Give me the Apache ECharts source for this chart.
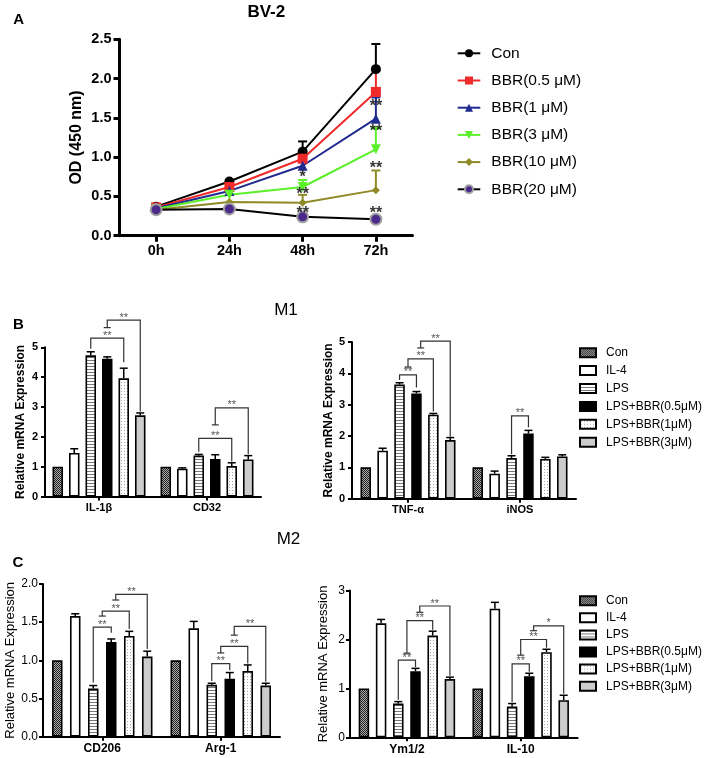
<!DOCTYPE html>
<html><head><meta charset="utf-8">
<script src="https://cdn.jsdelivr.net/npm/echarts@6/dist/echarts.min.js"></script>
<style>html,body{margin:0;padding:0;background:#fff}#c{width:708px;height:758px}</style>
</head><body><div id="c"></div>
<script>
const FONT = 'Arial, "Liberation Sans", Helvetica, sans-serif';

// ---------- Panel A data ----------
const timeLabels = ['0h', '24h', '48h', '72h'];
const lineNames = ['Con', 'BBR(0.5 μM)', 'BBR(1 μM)', 'BBR(3 μM)', 'BBR(10 μM)', 'BBR(20 μM)'];
const odCon   = [0.37, 0.69, 1.07, 2.12];
const odBbr05 = [0.36, 0.62, 0.98, 1.83];
const odBbr1  = [0.35, 0.57, 0.89, 1.49];
const odBbr3  = [0.34, 0.52, 0.62, 1.10];
const odBbr10 = [0.33, 0.43, 0.42, 0.58];
const odBbr20 = [0.33, 0.34, 0.24, 0.21];
const odConUp   = [null, null, 1.20, 2.44];
const odBbr05Up = [null, null, null, 2.10];
const odBbr1Up  = [null, null, null, 1.76];
const odBbr3Up  = [null, null, 0.71, 1.37];
const odBbr10Up = [null, null, 0.52, 0.83];
const odBbr20Up = [null, null, null, null];
const starsA = [[2, 0.79, '*'], [2, 0.57, '**'], [2, 0.33, '**'], [3, 1.69, '**'], [3, 1.37, '**'], [3, 0.90, '**'], [3, 0.33, '**']];

// ---------- Panels B / C data ----------
const groupNames = ['Con', 'IL-4', 'LPS', 'LPS+BBR(0.5μM)', 'LPS+BBR(1μM)', 'LPS+BBR(3μM)'];
const m1LeftCats  = ['IL-1β', 'CD32'];
const il1bMean = [1.00, 1.46, 4.73, 4.62, 3.96, 2.72];
const il1bUp   = [1.00, 1.60, 4.85, 4.68, 4.30, 2.80];
const cd32Mean = [1.00, 0.93, 1.37, 1.26, 1.02, 1.24];
const cd32Up   = [1.00, 0.96, 1.41, 1.40, 1.13, 1.37];
const m1RightCats = ['TNF-α', 'iNOS'];
const tnfMean  = [1.00, 1.53, 3.64, 3.36, 2.68, 1.87];
const tnfUp    = [1.00, 1.61, 3.70, 3.42, 2.72, 1.95];
const inosMean = [1.00, 0.80, 1.30, 2.08, 1.27, 1.35];
const inosUp   = [1.00, 0.88, 1.37, 2.18, 1.32, 1.40];
const m2LeftCats  = ['CD206', 'Arg-1'];
const cd206Mean = [1.00, 1.58, 0.63, 1.24, 1.32, 1.05];
const cd206Up   = [1.00, 1.61, 0.67, 1.28, 1.38, 1.12];
const arg1Mean  = [1.00, 1.42, 0.68, 0.76, 0.86, 0.67];
const arg1Up    = [1.00, 1.51, 0.70, 0.84, 0.94, 0.70];
const m2RightCats = ['Ym1/2', 'IL-10'];
const ymMean   = [1.00, 2.33, 0.69, 1.35, 2.08, 1.19];
const ymUp     = [1.00, 2.41, 0.73, 1.41, 2.17, 1.23];
const il10Mean = [1.00, 2.63, 0.63, 1.25, 1.74, 0.76];
const il10Up   = [1.00, 2.76, 0.69, 1.31, 1.80, 0.86];

// brackets: [category, fromBar, toBar, topY, leftEndY, rightEndY, label, leftCapped]
const m1LeftBrackets = [
  [0, 2, 4, 5.31, 4.95, 4.50, '**', false],
  [0, 3, 5, 5.91, 5.66, 2.85, '**', true],
  [1, 2, 4, 1.95, 1.50, 1.17, '**', false],
  [1, 3, 5, 2.97, 2.40, 1.42, '**', true]
];
const m1RightBrackets = [
  [0, 2, 3, 3.95, 3.79, 3.55, '**', false],
  [0, 2.5, 4, 4.46, 4.20, 2.78, '**', true],
  [0, 3.25, 5, 5.03, 4.81, 1.98, '**', true],
  [1, 2, 3, 2.64, 1.42, 2.28, '**', false]
];
const m2LeftBrackets = [
  [0, 2, 3, 1.436, 0.71, 1.36, '**', false],
  [0, 2.5, 4, 1.645, 1.58, 1.41, '**', true],
  [0, 3.25, 5, 1.863, 1.79, 1.15, '**', true],
  [1, 2, 3, 0.958, 0.73, 0.87, '**', false],
  [1, 2.5, 4, 1.184, 1.097, 0.96, '**', true],
  [1, 3.25, 5, 1.445, 1.33, 0.72, '**', true]
];
const m2RightBrackets = [
  [0, 2, 3, 1.58, 0.77, 1.44, '**', false],
  [0, 2.5, 4, 2.385, 1.72, 2.20, '**', true],
  [0, 3.25, 5, 2.685, 2.556, 1.26, '**', true],
  [1, 2, 3, 1.50, 0.72, 1.34, '**', false],
  [1, 2.5, 4, 2.00, 1.68, 1.83, '**', true],
  [1, 3.25, 5, 2.28, 2.18, 0.89, '*', true]
];

// ---------- patterns ----------
function pat(w, h, draw) {
  const cv = document.createElement('canvas'); cv.width = w; cv.height = h;
  const ctx = cv.getContext('2d'); draw(ctx);
  return { image: cv, repeat: 'repeat' };
}
const fillCon = pat(2, 2, c => { c.fillStyle = '#aaa'; c.fillRect(0, 0, 2, 2); c.fillStyle = '#222'; c.fillRect(0, 0, 1, 1); c.fillRect(1, 1, 1, 1); });
const fillLps = pat(3, 3, c => { c.fillStyle = '#fff'; c.fillRect(0, 0, 3, 3); c.fillStyle = '#777'; c.fillRect(0, 0, 3, 1); });
const fillDots = pat(3, 3, c => { c.fillStyle = '#fff'; c.fillRect(0, 0, 3, 3); c.fillStyle = '#aaa'; c.fillRect(1, 1, 1, 1); });
const barFills = [fillCon, '#ffffff', fillLps, '#000000', fillDots, '#cccccc'];

// ---------- helpers ----------
const BAR_W = 10.5;
function barSeries(gridIdx, tag, meansByCat, pitch) {
  return groupNames.map((g, gi) => ({
    type: 'bar', name: g + '|' + tag, xAxisIndex: gridIdx, yAxisIndex: gridIdx,
    data: meansByCat.map(m => m[gi]),
    barWidth: BAR_W, barGap: ((pitch / BAR_W - 1) * 100).toFixed(1) + '%',
    itemStyle: { color: barFills[gi], borderColor: '#000', borderWidth: 1.6 },
    emphasis: { disabled: true }, silent: true, z: 2
  }));
}
function errSeries(gridIdx, meansByCat, upsByCat, pitch) {
  const rows = [];
  meansByCat.forEach((ms, ci) => ms.forEach((m, bi) => {
    const u = upsByCat[ci][bi];
    if (u != null && u > m) rows.push([ci, bi, m, u]);
  }));
  return {
    type: 'custom', xAxisIndex: gridIdx, yAxisIndex: gridIdx, z: 5, silent: true, data: rows,
    encode: { x: 0, y: 3 },
    renderItem(params, api) {
      const c = api.coord([api.value(0), api.value(2)]);
      const u = api.coord([api.value(0), api.value(3)]);
      const x = c[0] + (api.value(1) - 2.5) * pitch;
      return { type: 'group', children: [
        { type: 'line', shape: { x1: x, y1: c[1], x2: x, y2: u[1] }, style: { stroke: '#000', lineWidth: 1.5 } },
        { type: 'line', shape: { x1: x - 4, y1: u[1], x2: x + 4, y2: u[1] }, style: { stroke: '#000', lineWidth: 1.5 } }
      ] };
    }
  };
}
function bracketSeries(gridIdx, brackets, pitch) {
  return {
    type: 'custom', xAxisIndex: gridIdx, yAxisIndex: gridIdx, z: 6, silent: true,
    data: brackets.map(b => [b[0], b[3]]),
    renderItem(params, api) {
      const b = brackets[params.dataIndex];
      const base = api.coord([b[0], 0])[0];
      const x1 = base + (b[1] - 2.5) * pitch, x2 = base + (b[2] - 2.5) * pitch;
      const yT = api.coord([b[0], b[3]])[1], yL = api.coord([b[0], b[4]])[1], yR = api.coord([b[0], b[5]])[1];
      const ch = [{ type: 'polyline', shape: { points: [[x1, yL], [x1, yT], [x2, yT], [x2, yR]] }, style: { stroke: '#333', lineWidth: 1.2, fill: null } }];
      if (b[7]) ch.push({ type: 'line', shape: { x1: x1 - 3.5, y1: yL, x2: x1 + 3.5, y2: yL }, style: { stroke: '#333', lineWidth: 1.2 } });
      ch.push({ type: 'text', style: { text: b[6], x: (x1 + x2) / 2, y: yT + 3, align: 'center', verticalAlign: 'bottom', fill: '#555', fontSize: 11, fontFamily: FONT } });
      return { type: 'group', children: ch };
    }
  };
}
const lineColors = ['#000000', '#ee2a2a', '#1f2b8f', '#5cf02a', '#8f8a25', '#000000'];
const lineSymbols = ['circle', 'rect', 'triangle', 'triangle', 'diamond', 'circle'];
const lineSizes = [10, 10, 10, 10, 8, 11];
const lineData = [odCon, odBbr05, odBbr1, odBbr3, odBbr10, odBbr20];
const lineUps = [odConUp, odBbr05Up, odBbr1Up, odBbr3Up, odBbr10Up, odBbr20Up];

function lineErr(means, ups, color) {
  const rows = [];
  means.forEach((m, i) => { if (ups[i] != null) rows.push([i, m, ups[i]]); });
  return {
    type: 'custom', xAxisIndex: 0, yAxisIndex: 0, z: 1, silent: true, data: rows, encode: { x: 0, y: 2 },
    renderItem(p, api) {
      const a = api.coord([api.value(0), api.value(1)]), b = api.coord([api.value(0), api.value(2)]);
      return { type: 'group', children: [
        { type: 'line', shape: { x1: a[0], y1: a[1], x2: a[0], y2: b[1] }, style: { stroke: color, lineWidth: 2 } },
        { type: 'line', shape: { x1: a[0] - 4.5, y1: b[1], x2: a[0] + 4.5, y2: b[1] }, style: { stroke: color, lineWidth: 2 } }
      ] };
    }
  };
}

const series = [];
lineNames.forEach((n, i) => {
  series.push({
    type: 'line', name: n, xAxisIndex: 0, yAxisIndex: 0, data: lineData[i], z: 3,
    symbol: lineSymbols[i], symbolSize: lineSizes[i], symbolRotate: i === 3 ? 180 : 0,
    lineStyle: { color: lineColors[i], width: 2 },
    itemStyle: i === 5 ? { color: '#4b2a8c', borderColor: '#a0a0a0', borderWidth: 2 } : { color: lineColors[i] },
    emphasis: { disabled: true }, silent: true
  });
  series.push(lineErr(lineData[i], lineUps[i], i === 5 ? '#000' : lineColors[i]));
});
series.push({
  type: 'scatter', xAxisIndex: 0, yAxisIndex: 0, z: 4, silent: true, symbolSize: 1,
  itemStyle: { color: 'rgba(0,0,0,0)' },
  data: starsA.map(s => ({ value: [s[0], s[1]], name: s[2] })),
  label: { show: true, position: 'inside', formatter: p => p.name, fontSize: 16, fontWeight: 'bold', color: '#000', textBorderWidth: 0, fontFamily: FONT, offset: [0, 4] }
});

const P_B1 = 16.5, P_B2 = 16.9, P_C1 = 18, P_C2 = 17.2;
series.push(...barSeries(1, 'B1', [il1bMean, cd32Mean], P_B1));
series.push(errSeries(1, [il1bMean, cd32Mean], [il1bUp, cd32Up], P_B1));
series.push(bracketSeries(1, m1LeftBrackets, P_B1));
series.push(...barSeries(2, 'B2', [tnfMean, inosMean], P_B2));
series.push(errSeries(2, [tnfMean, inosMean], [tnfUp, inosUp], P_B2));
series.push(bracketSeries(2, m1RightBrackets, P_B2));
series.push(...barSeries(3, 'C1', [cd206Mean, arg1Mean], P_C1));
series.push(errSeries(3, [cd206Mean, arg1Mean], [cd206Up, arg1Up], P_C1));
series.push(bracketSeries(3, m2LeftBrackets, P_C1));
series.push(...barSeries(4, 'C2', [ymMean, il10Mean], P_C2));
series.push(errSeries(4, [ymMean, il10Mean], [ymUp, il10Up], P_C2));
series.push(bracketSeries(4, m2RightBrackets, P_C2));

function catAxis(gi, data, lw, fs, margin, tickLen) {
  return {
    type: 'category', gridIndex: gi, data: data, boundaryGap: true,
    axisLine: { show: true, lineStyle: { color: '#000', width: lw } },
    axisTick: { show: true, alignWithLabel: true, length: tickLen, lineStyle: { color: '#000', width: lw } },
    axisLabel: { color: '#000', fontWeight: 'bold', fontSize: fs, fontFamily: FONT, margin: margin },
    splitLine: { show: false }
  };
}
function valAxis(gi, min, max, interval, opts) {
  return {
    type: 'value', gridIndex: gi, min: min, max: max, interval: interval,
    name: opts.name, nameLocation: 'middle', nameGap: opts.nameGap, nameRotate: 90,
    nameTextStyle: { color: '#000', fontWeight: opts.nameBold ? 'bold' : 'normal', fontSize: opts.nameSize, fontFamily: FONT },
    axisLine: { show: true, lineStyle: { color: '#000', width: opts.lw } },
    axisTick: { show: true, length: opts.tickLen, lineStyle: { color: '#000', width: opts.lw } },
    axisLabel: { color: '#000', fontWeight: opts.labelBold ? 'bold' : 'normal', fontSize: opts.labelSize, fontFamily: FONT, margin: opts.margin,
      formatter: v => opts.dec ? v.toFixed(opts.dec) : String(v) },
    splitLine: { show: false }
  };
}

const legendText = (size, lh, padL) => ({ color: '#000', fontSize: size, lineHeight: lh, fontFamily: FONT, padding: [0, 0, 0, padL] });

const option = {
  animation: false,
  backgroundColor: '#fff',
  textStyle: { fontFamily: FONT },
  grid: [
    { left: 119.5, top: 39.3, width: 293, height: 196.4, outerBoundsMode: 'none' },
    { left: 45, top: 347.3, width: 216, height: 149.2, outerBoundsMode: 'none' },
    { left: 352, top: 342, width: 224, height: 156.7, outerBoundsMode: 'none' },
    { left: 43, top: 584, width: 237, height: 152.7, outerBoundsMode: 'none' },
    { left: 350, top: 590.6, width: 227.6, height: 146.7, outerBoundsMode: 'none' }
  ],
  xAxis: [
    catAxis(0, timeLabels, 3, 14.5, 8, 6),
    catAxis(1, m1LeftCats, 2, 11, 6, 4),
    catAxis(2, m1RightCats, 2, 11, 6, 4),
    catAxis(3, m2LeftCats, 2, 12, 6, 4),
    catAxis(4, m2RightCats, 2, 12, 6, 4)
  ],
  yAxis: [
    valAxis(0, 0, 2.5, 0.5, { name: 'OD (450 nm)', nameGap: 35, nameBold: true, nameSize: 16, lw: 3, tickLen: 6, labelBold: true, labelSize: 14.5, margin: 8, dec: 1 }),
    valAxis(1, 0, 5, 1, { name: 'Relative mRNA Expression', nameGap: 18, nameBold: true, nameSize: 12, lw: 2, tickLen: 4, labelBold: true, labelSize: 11, margin: 7 }),
    valAxis(2, 0, 5, 1, { name: 'Relative mRNA Expression', nameGap: 16, nameBold: true, nameSize: 12, lw: 2, tickLen: 4, labelBold: true, labelSize: 11, margin: 7 }),
    valAxis(3, 0, 2, 0.5, { name: 'Relative mRNA Expression', nameGap: 25, nameBold: false, nameSize: 13, lw: 2, tickLen: 4, labelBold: false, labelSize: 12, margin: 5, dec: 1 }),
    valAxis(4, 0, 3, 1, { name: 'Relative mRNA Expression', nameGap: 20, nameBold: false, nameSize: 13, lw: 2, tickLen: 4, labelBold: false, labelSize: 12, margin: 5 })
  ],
  legend: [
    { data: lineNames, orient: 'vertical', left: 456.7, top: 44.3, padding: 0, itemWidth: 22.6, itemHeight: 10, itemGap: 9.2,
      textStyle: legendText(15.5, 18, 6), selectedMode: false },
    { data: groupNames.map(g => g + '|B1'), orient: 'vertical', left: 579, top: 345.7, padding: 0, itemWidth: 16, itemHeight: 9, itemGap: 3.9,
      icon: 'rect', textStyle: legendText(12, 14, 5), selectedMode: false, formatter: n => n.split('|')[0] },
    { data: groupNames.map(g => g + '|C1'), orient: 'vertical', left: 579, top: 593.7, padding: 0, itemWidth: 16, itemHeight: 9, itemGap: 3.1,
      icon: 'rect', textStyle: legendText(12, 14, 5), selectedMode: false, formatter: n => n.split('|')[0] }
  ],
  graphic: [
    { type: 'text', x: 18.7, y: 20, style: { text: 'A', fontSize: 15, fontWeight: 'bold', fontFamily: FONT, fill: '#000', align: 'center', verticalAlign: 'middle' } },
    { type: 'text', x: 266.3, y: 12, style: { text: 'BV-2', fontSize: 17, fontWeight: 'bold', fontFamily: FONT, fill: '#000', align: 'center', verticalAlign: 'middle' } },
    { type: 'text', x: 18.3, y: 325, style: { text: 'B', fontSize: 15, fontWeight: 'bold', fontFamily: FONT, fill: '#000', align: 'center', verticalAlign: 'middle' } },
    { type: 'text', x: 286, y: 310, style: { text: 'M1', fontSize: 17, fontFamily: FONT, fill: '#000', align: 'center', verticalAlign: 'middle' } },
    { type: 'text', x: 18, y: 562.5, style: { text: 'C', fontSize: 15, fontWeight: 'bold', fontFamily: FONT, fill: '#000', align: 'center', verticalAlign: 'middle' } },
    { type: 'text', x: 288.5, y: 539, style: { text: 'M2', fontSize: 17, fontFamily: FONT, fill: '#000', align: 'center', verticalAlign: 'middle' } }
  ],
  series: series
};

const chart = echarts.init(document.getElementById('c'), null, { renderer: 'canvas' });
chart.setOption(option);
</script>
</body></html>
